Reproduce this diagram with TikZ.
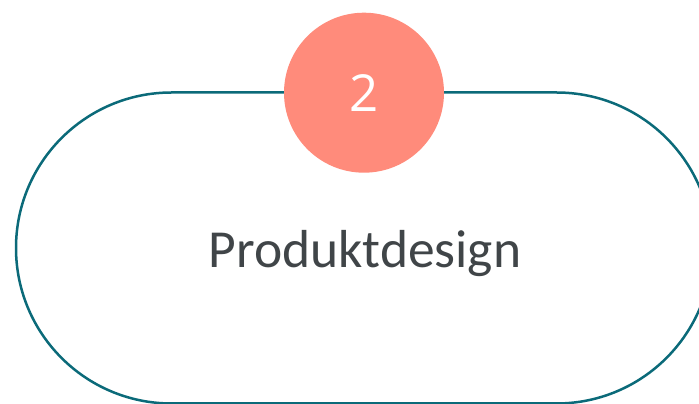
\documentclass[tikz,border=0pt]{standalone}
\usepackage{fontspec}
\setmainfont{Carlito}
\newfontfamily\numfont{Open Sans}
\definecolor{tealline}{HTML}{0B6A79}
\definecolor{salmon}{HTML}{FF8B7B}
\definecolor{txtgray}{HTML}{404548}
\begin{document}
\begin{tikzpicture}[x=1pt,y=1pt,
  frame/.style={draw=tealline,line width=2.5pt,rounded corners=155.5pt},
  badge/.style={circle,fill=salmon,minimum size=160pt,inner sep=0pt},
  title/.style={anchor=base,text=txtgray,font=\fontsize{53.5}{60}\selectfont},
  num/.style={anchor=base,text=white,font=\numfont\fontsize{51}{60}\selectfont}]
\useasboundingbox (0,0) rectangle (699,404);
\draw[frame] (16,0.5) rectangle (712,311.5);
\node[badge] (b) at (364,311.3) {};
\node[num] (n) at (364,292.3) {2};
\node[title] (t) at (365,136.7) {Produktdesign};
\end{tikzpicture}
\end{document}
